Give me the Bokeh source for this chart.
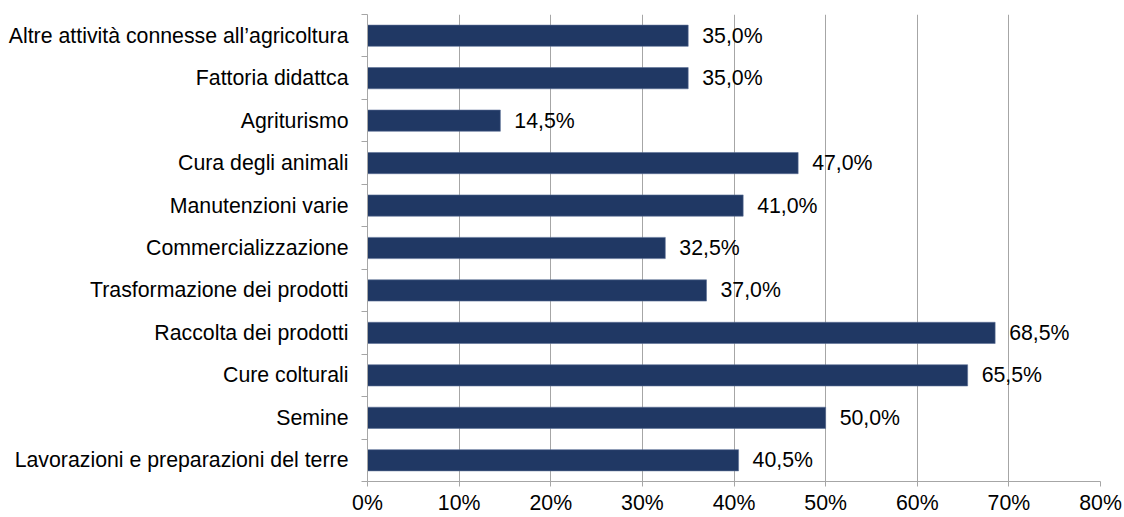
from bokeh.plotting import figure
from bokeh.models import ColumnDataSource, FixedTicker, Range1d, PrintfTickFormatter
from bokeh.core.properties import value
from bokeh.embed import file_html
from bokeh.resources import INLINE

# Data (top to bottom, as shown in the chart)
categories = [
    "Altre attività connesse all’agricoltura",
    "Fattoria didattca",
    "Agriturismo",
    "Cura degli animali",
    "Manutenzioni varie",
    "Commercializzazione",
    "Trasformazione dei prodotti",
    "Raccolta dei prodotti",
    "Cure colturali",
    "Semine",
    "Lavorazioni e preparazioni del terre",
]
values_pct = [35.0, 35.0, 14.5, 47.0, 41.0, 32.5, 37.0, 68.5, 65.5, 50.0, 40.5]
x_ticks = [0, 10, 20, 30, 40, 50, 60, 70, 80]

FONT = "Liberation Sans"
FS = "21.3px"
BAR = "#203864"
GRID = "#A6A6A6"

n = len(categories)
ypos = [n - 1 - i + 0.5 for i in range(n)]
labels = [f"{v:.1f}%".replace(".", ",") for v in values_pct]

src = ColumnDataSource(dict(y=ypos, v=values_pct, lab=labels, cat=categories))

p = figure(
    width=1124, height=517,
    x_range=Range1d(0, 80), y_range=Range1d(0, n),
    output_backend="svg", toolbar_location=None,
    min_border_left=367, min_border_right=24, min_border_top=14, min_border_bottom=10,
)
p.outline_line_color = None
p.background_fill_color = "white"
p.border_fill_color = "white"

p.hbar(y="y", left=0, right="v", height=0.5, source=src,
       fill_color=BAR, line_color="#5A6E96", line_width=0.6)

p.text(x="v", y="y", text="lab", source=src, x_offset=14,
       text_baseline="middle", text_align="left",
       text_font=value(FONT), text_font_size=FS, text_color="#000000")

# x axis
p.xaxis.ticker = FixedTicker(ticks=x_ticks)
p.xaxis.formatter = PrintfTickFormatter(format="%d%%")
p.xaxis.axis_line_color = GRID
p.xaxis.major_tick_line_color = GRID
p.xaxis.major_tick_out = 5
p.xaxis.major_tick_in = 0
p.xaxis.minor_tick_line_color = None
p.xaxis.major_label_standoff = 4
p.xaxis.major_label_text_font = FONT
p.xaxis.major_label_text_font_size = FS
p.xaxis.major_label_text_color = "#000000"

# y axis: labels at band centers, ticks at band boundaries
p.yaxis.ticker = FixedTicker(ticks=ypos, minor_ticks=[float(k) for k in range(n + 1)])
p.yaxis.major_label_overrides = {y: c for y, c in zip(ypos, categories)}
p.yaxis.axis_line_color = GRID
p.yaxis.major_tick_line_color = None
p.yaxis.major_tick_out = 6
p.yaxis.major_tick_in = 0
p.yaxis.minor_tick_line_color = GRID
p.yaxis.minor_tick_out = 6
p.yaxis.minor_tick_in = 0
p.yaxis.major_label_standoff = 13
p.yaxis.major_label_text_font = FONT
p.yaxis.major_label_text_font_size = FS
p.yaxis.major_label_text_color = "#000000"

p.xgrid.grid_line_color = GRID
p.xgrid.grid_line_width = 1
p.ygrid.grid_line_color = None

open("out.html", "w").write(file_html(p, INLINE))
